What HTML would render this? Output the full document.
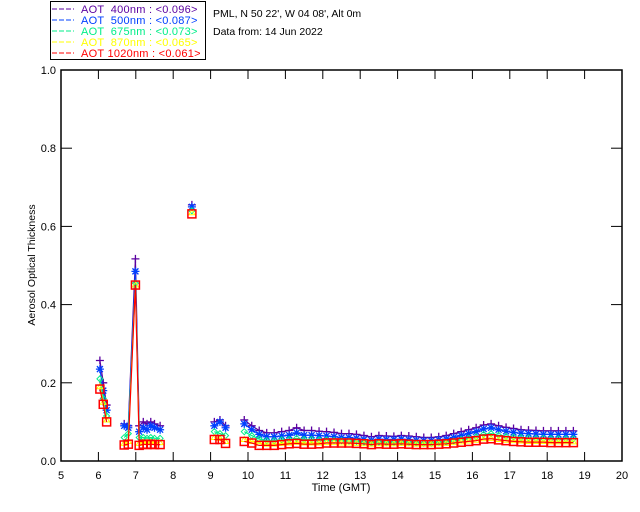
<!DOCTYPE html>
<html><head><meta charset="utf-8"><style>
body{margin:0;background:#fff;width:640px;height:512px;overflow:hidden}
svg{display:block;font-family:"Liberation Sans",sans-serif}
</style></head><body>
<svg id="c" width="640" height="512">
<g font-size="11" letter-spacing="0.25">
<rect x="50.5" y="1.5" width="155" height="58" fill="none" stroke="#000"/>
<g><line x1="52" y1="9" x2="74" y2="9" stroke="#5a00a0" stroke-dasharray="5,2"/><text x="81" y="13" fill="#5a00a0" xml:space="preserve">AOT  400nm : &lt;0.096&gt;</text></g>
<g><line x1="52" y1="20" x2="74" y2="20" stroke="#0040ff" stroke-dasharray="5,2"/><text x="81" y="24" fill="#0040ff" xml:space="preserve">AOT  500nm : &lt;0.087&gt;</text></g>
<g><line x1="52" y1="31" x2="74" y2="31" stroke="#00ee88" stroke-dasharray="5,2"/><text x="81" y="35" fill="#00ee88" xml:space="preserve">AOT  675nm : &lt;0.073&gt;</text></g>
<g><line x1="52" y1="42" x2="74" y2="42" stroke="#ffff00" stroke-dasharray="5,2"/><text x="81" y="46" fill="#ffff00" xml:space="preserve">AOT  870nm : &lt;0.065&gt;</text></g>
<g><line x1="52" y1="53" x2="74" y2="53" stroke="#ff0000" stroke-dasharray="5,2"/><text x="81" y="57" fill="#ff0000" xml:space="preserve">AOT 1020nm : &lt;0.061&gt;</text></g>
</g>
<text x="213" y="17" font-size="10.5">PML, N 50 22', W 04 08', Alt 0m</text>
<text x="213" y="35" font-size="10.5">Data from: 14 Jun 2022</text>
<rect x="61" y="70" width="561" height="391" fill="none" stroke="#000" stroke-width="1.5"/>
<g id="axes"></g>
<g id="series"></g>
<text x="341" y="491" font-size="11" text-anchor="middle">Time (GMT)</text>
<text transform="translate(35,265) rotate(-90)" font-size="10.5" text-anchor="middle">Aerosol Optical Thickness</text>
</svg>
<script>
const xTicks=[5,6,7,8,9,10,11,12,13,14,15,16,17,18,19,20];
const yTicks=[0,0.2,0.4,0.6,0.8,1.0];
const yTickLabels=["0.0","0.2","0.4","0.6","0.8","1.0"];
const times=[6.04,6.13,6.22,6.69,6.8,6.99,7.09,7.2,7.3,7.4,7.5,7.65,8.5,9.1,9.25,9.4,
9.9,10.1,10.3,10.5,10.7,10.9,11.1,11.3,11.5,11.7,11.9,12.1,12.3,12.5,12.7,12.9,13.1,13.3,13.5,13.7,13.9,14.1,14.3,14.5,14.7,14.9,15.1,15.3,15.5,15.7,15.9,16.1,16.3,16.5,16.7,16.9,17.1,17.3,17.5,17.7,17.9,18.1,18.3,18.5,18.7];
const aot400=[.257,.2,.143,.095,.09,.517,.09,.1,.095,.1,.095,.09,.655,.1,.105,.09,
.105,.09,.078,.072,.072,.075,.078,.085,.078,.078,.076,.075,.073,.07,.07,.068,.065,.062,.065,.064,.063,.065,.064,.062,.06,.06,.062,.065,.07,.075,.08,.085,.092,.095,.09,.086,.083,.08,.079,.078,.077,.077,.077,.077,.077];
const aot500=[.235,.18,.13,.09,.085,.485,.075,.085,.08,.09,.085,.08,.65,.09,.1,.085,
.095,.08,.068,.062,.062,.064,.066,.072,.066,.066,.065,.064,.062,.06,.06,.058,.055,.053,.056,.055,.055,.056,.055,.053,.052,.052,.054,.056,.06,.065,.07,.075,.082,.085,.08,.076,.073,.071,.07,.069,.068,.068,.068,.068,.068];
const aot675=[.21,.16,.115,.06,.07,.455,.06,.06,.058,.06,.058,.058,.64,.075,.07,.065,
.075,.065,.056,.052,.052,.054,.055,.058,.055,.055,.054,.054,.053,.052,.051,.05,.048,.046,.048,.047,.047,.048,.047,.046,.045,.045,.047,.048,.051,.055,.058,.062,.068,.07,.066,.063,.061,.06,.059,.058,.058,.057,.057,.057,.057];
const aot870=[.19,.15,.105,.045,.05,.45,.045,.048,.047,.048,.047,.047,.635,.06,.058,.05,
.055,.05,.045,.043,.043,.045,.046,.048,.046,.046,.046,.047,.047,.046,.046,.045,.044,.043,.044,.044,.044,.045,.044,.043,.043,.043,.044,.045,.047,.049,.051,.053,.057,.058,.055,.053,.052,.051,.05,.05,.05,.049,.049,.049,.049];
const aot1020=[.184,.145,.1,.041,.043,.45,.04,.043,.042,.043,.042,.042,.632,.055,.055,.045,
.05,.046,.04,.04,.04,.042,.044,.045,.043,.043,.044,.046,.046,.046,.046,.045,.044,.042,.044,.043,.043,.044,.043,.042,.042,.042,.043,.044,.046,.048,.05,.052,.056,.057,.054,.052,.05,.049,.048,.048,.048,.047,.047,.047,.047];
const NS='http://www.w3.org/2000/svg';
const X=t=>61+(t-5)*561/15, Y=v=>461-v*391;
function mk(tag,attrs,parent){const e=document.createElementNS(NS,tag);for(const k in attrs)e.setAttribute(k,attrs[k]);parent.appendChild(e);return e;}
const ax=document.getElementById('axes');
xTicks.forEach(t=>{
 const g=mk('g',{},ax);
 
 
 if(t>5&&t<20){mk('line',{x1:X(t),x2:X(t),y1:461,y2:452,stroke:'#000'},g);mk('line',{x1:X(t),x2:X(t),y1:70,y2:79,stroke:'#000'},g);}
 const tx=mk('text',{x:X(t),y:479,'font-size':11,'text-anchor':'middle'},g);tx.textContent=t;
});
yTicks.forEach((v,i)=>{
 const g=mk('g',{},ax);
 
 
 if(i>0&&i<yTicks.length-1){mk('line',{x1:61,x2:72,y1:Y(v),y2:Y(v),stroke:'#000'},g);mk('line',{x1:622,x2:611,y1:Y(v),y2:Y(v),stroke:'#000'},g);}
 const tx=mk('text',{x:56,y:Y(v)+4,'font-size':11,'text-anchor':'end'},g);tx.textContent=yTickLabels[i];
});
const sg=document.getElementById('series');
function series(vals,color,marker,name){
 const g=mk('g',{},sg);
 
 
 let d='';
 for(let i=0;i<times.length;i++){
  const x=X(times[i]),y=Y(vals[i]);
  d+=(i===0||times[i]-times[i-1]>0.35?'M':'L')+x.toFixed(1)+' '+y.toFixed(1);
 }
 mk('path',{d:d,fill:'none',stroke:color,'stroke-width':1.2},g);
 for(let i=0;i<times.length;i++){
  const x=X(times[i]),y=Y(vals[i]);let m;
  if(marker==='plus')m=mk('path',{d:`M${x-4} ${y}h8M${x} ${y-4}v8`,stroke:color,'stroke-width':1.3,fill:'none'},g);
  else if(marker==='star')m=mk('path',{d:`M${x-4} ${y}h8M${x} ${y-4}v8M${x-3} ${y-3}l6 6M${x-3} ${y+3}l6 -6`,stroke:color,'stroke-width':1.3,fill:'none'},g);
  else if(marker==='diamond')m=mk('path',{d:`M${x} ${y-3}l3 3l-3 3l-3 -3z`,stroke:color,fill:'none'},g);
  else if(marker==='tri')m=mk('path',{d:`M${x} ${y-3}l3 5h-6z`,stroke:color,fill:'none'},g);
  else m=mk('rect',{x:x-4,y:y-4,width:8,height:8,stroke:color,'stroke-width':1.5,fill:'none'},g);
  
  
 }
}
series(aot400,'#5a00a0','plus','series-400nm');
series(aot500,'#0040ff','star','series-500nm');
series(aot675,'#00ee88','diamond','series-675nm');
series(aot870,'#ffff00','tri','series-870nm');
series(aot1020,'#ff0000','square','series-1020nm');
</script>
</body></html>
